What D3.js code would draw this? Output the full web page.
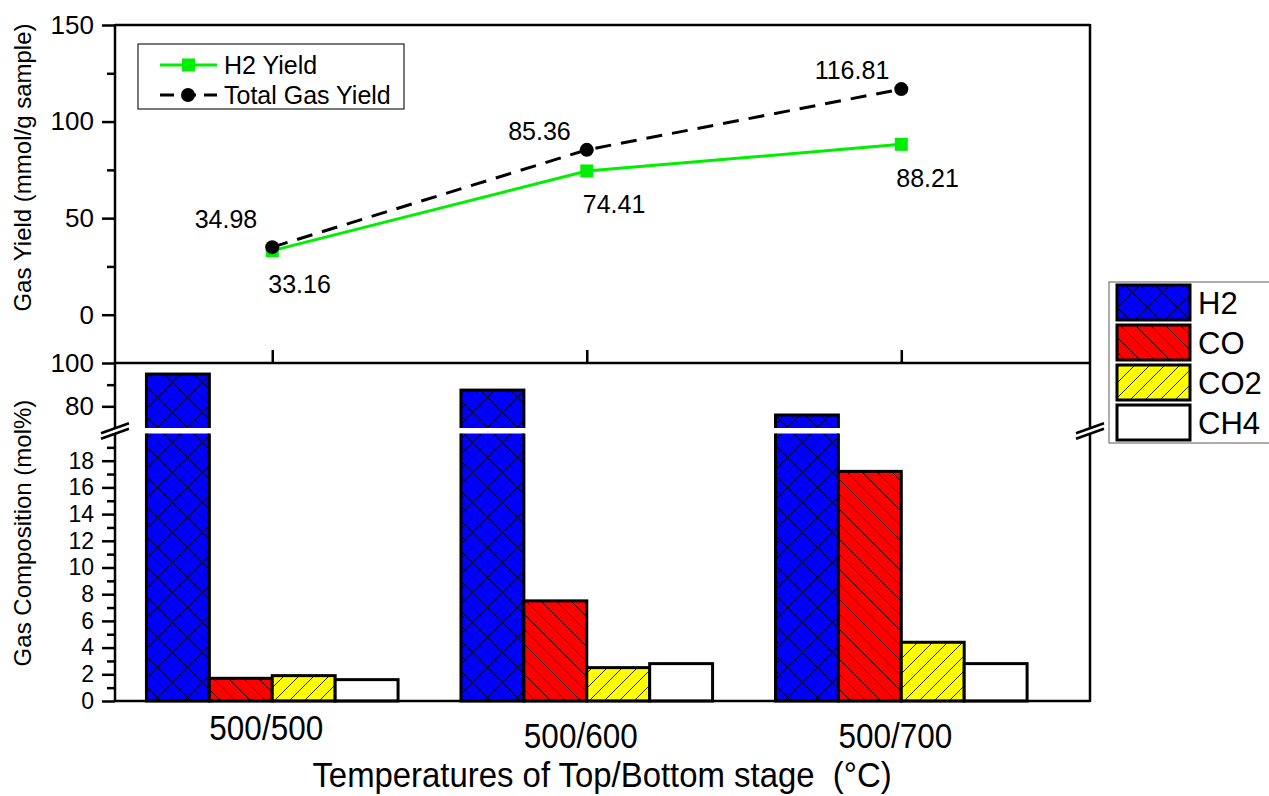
<!DOCTYPE html>
<html>
<head>
<meta charset="utf-8">
<script src="https://cdn.jsdelivr.net/npm/d3@7"></script>
<style>
  html, body { margin: 0; padding: 0; background: #fff; }
  svg { display: block; }
  text { font-family: "Liberation Sans", Arial, sans-serif; fill: #000; white-space: pre; }
</style>
</head>
<body>
<svg id="chart" width="1269" height="796"></svg>
<script>
// ---------------- data ----------------
const categories = ["500/500", "500/600", "500/700"];
const h2Yield = [33.16, 74.41, 88.21];
const totalYield = [34.98, 85.36, 116.81];
const gasNames = ["H2", "CO", "CO2", "CH4"];
const h2Comp = [94.9, 87.5, 76.0];
const coComp = [1.7, 7.5, 17.2];
const co2Comp = [1.9, 2.5, 4.4];
const ch4Comp = [1.6, 2.8, 2.8];
const yieldTicks = [0, 50, 100, 150];
const yieldMinorTicks = [25, 75, 125];
const compUpperTicks = [80, 100];
const compUpperMinor = [90];
const compLowerTicks = [0, 2, 4, 6, 8, 10, 12, 14, 16, 18];
const compLowerMinor = [1, 3, 5, 7, 9, 11, 13, 15, 17, 19];
const yieldTitle = "Gas Yield (mmol/g sample)";
const compTitle = "Gas Composition (mol%)";
const xTitle = "Temperatures of Top/Bottom stage \u00A0(\u00B0C)";
const lineLegend = ["H2 Yield", "Total Gas Yield"];

// ---------------- layout ----------------
const L = 115, R = 1090, TOP = 25, MID = 363, BOT = 701;
const BREAK_HI = 428, BREAK_LO = 433.5;
const FONT = '"Liberation Sans", Arial, sans-serif';

const svg = d3.select("#chart");
svg.append("rect").attr("width", 1269).attr("height", 796).attr("fill", "#fff");

const x = d3.scaleLinear().domain([-0.5, 2.6]).range([L, R]);
const yTop = d3.scaleLinear().domain([-25, 150]).range([MID, TOP]);
const yUp = d3.scaleLinear().domain([70, 100]).range([BREAK_HI, MID]);
const yLow = d3.scaleLinear().domain([0, 20]).range([BOT, 434]);
const step = x(1) - x(0);
const bw = step * 0.2;

// ---------------- patterns ----------------
const defs = svg.append("defs");
function pattern(id, fill, paths) {
  const p = defs.append("pattern").attr("id", id)
    .attr("patternUnits", "userSpaceOnUse").attr("width", 15).attr("height", 15);
  p.append("rect").attr("width", 15).attr("height", 15).attr("fill", fill);
  paths.forEach(d => p.append("path").attr("d", d)
    .attr("stroke", "#000").attr("stroke-width", 1).attr("stroke-opacity", 0.85).attr("fill", "none"));
}
pattern("pH2", "#0000ff", ["M0,0L15,15M-5,10L5,20M10,-5L20,5", "M0,15L15,0M-5,5L5,-5M10,20L20,10"]);
pattern("pCO", "#ff0000", ["M0,0L15,15M-5,10L5,20M10,-5L20,5"]);
pattern("pCO2", "#ffff00", ["M0,15L15,0M-5,5L5,-5M10,20L20,10"]);
const gasFills = ["url(#pH2)", "url(#pCO)", "url(#pCO2)", "#ffffff"];

defs.append("clipPath").attr("id", "clipUp").append("rect")
  .attr("x", 0).attr("y", MID).attr("width", 1269).attr("height", BREAK_HI - MID);
defs.append("clipPath").attr("id", "clipLow").append("rect")
  .attr("x", 0).attr("y", BREAK_LO).attr("width", 1269).attr("height", BOT + 5 - BREAK_LO);

// ---------------- bars ----------------
const comps = [h2Comp, coComp, co2Comp, ch4Comp];
const barData = [];
categories.forEach((c, i) => {
  comps.forEach((arr, k) => {
    barData.push({ i, k, v: arr[i], x0: x(i) - 2 * bw + k * bw });
  });
});

const gUp = svg.append("g").attr("clip-path", "url(#clipUp)");
gUp.selectAll("rect").data(barData.filter(d => d.v > 70)).join("rect")
  .attr("x", d => d.x0).attr("width", bw)
  .attr("y", d => yUp(d.v)).attr("height", d => BREAK_HI + 12 - yUp(d.v))
  .attr("fill", d => gasFills[d.k]).attr("stroke", "#000").attr("stroke-width", 3);

const gLow = svg.append("g").attr("clip-path", "url(#clipLow)");
gLow.selectAll("rect").data(barData).join("rect")
  .attr("x", d => d.x0).attr("width", bw)
  .attr("y", d => d.v > 20 ? BREAK_LO - 12 : yLow(d.v))
  .attr("height", d => BOT - (d.v > 20 ? BREAK_LO - 12 : yLow(d.v)))
  .attr("fill", d => gasFills[d.k]).attr("stroke", "#000").attr("stroke-width", 3);

// ---------------- axes ----------------
function styleAxis(fs) {
  return g => {
    g.select(".domain").remove();
    g.selectAll("line").attr("stroke", "#000").attr("stroke-width", 2.5);
    g.selectAll("text").attr("font-family", FONT).attr("font-size", fs).attr("fill", "#000");
  };
}
function leftAxis(scale, ticks, size) {
  return d3.axisLeft(scale).tickValues(ticks).tickSize(size).tickPadding(8);
}
svg.append("g").attr("transform", `translate(${L},0)`)
  .call(leftAxis(yTop, yieldTicks, 13)).call(styleAxis(26));
svg.append("g").attr("transform", `translate(${L},0)`)
  .call(leftAxis(yTop, yieldMinorTicks, 8).tickFormat("")).call(styleAxis(26));
svg.append("g").attr("transform", `translate(${L},0)`)
  .call(leftAxis(yUp, compUpperTicks, 13)).call(styleAxis(26));
svg.append("g").attr("transform", `translate(${L},0)`)
  .call(leftAxis(yUp, compUpperMinor, 8).tickFormat("")).call(styleAxis(26));
svg.append("g").attr("transform", `translate(${L},0)`)
  .call(leftAxis(yLow, compLowerTicks, 13)).call(styleAxis(23));
svg.append("g").attr("transform", `translate(${L},0)`)
  .call(leftAxis(yLow, compLowerMinor, 8).tickFormat("")).call(styleAxis(23));

// category ticks on the middle axis (pointing up into top panel)
svg.append("g").attr("transform", `translate(0,${MID})`)
  .call(d3.axisTop(x).tickValues(categories.map((c, i) => i)).tickSize(13).tickFormat(""))
  .call(styleAxis(26));

// frame lines
const frame = svg.append("g").attr("stroke", "#000").attr("stroke-width", 2.5).attr("fill", "none");
frame.append("line").attr("x1", L).attr("x2", R).attr("y1", TOP).attr("y2", TOP);
frame.append("line").attr("x1", L).attr("x2", R).attr("y1", MID).attr("y2", MID);
frame.append("line").attr("x1", L).attr("x2", R).attr("y1", BOT).attr("y2", BOT);
frame.append("line").attr("x1", L).attr("x2", L).attr("y1", TOP - 1).attr("y2", BOT + 1);
frame.append("line").attr("x1", R).attr("x2", R).attr("y1", TOP - 1).attr("y2", BOT + 1);

// axis break marks
const cy = (BREAK_HI + BREAK_LO) / 2;
[L, R].forEach(cx => {
  const g = svg.append("g");
  g.append("polygon")
    .attr("points", `${cx - 14},${cy + 3} ${cx + 14},${cy - 7} ${cx + 14},${cy - 2} ${cx - 14},${cy + 8}`)
    .attr("fill", "#fff");
  g.append("line").attr("x1", cx - 14).attr("y1", cy + 2.5).attr("x2", cx + 14).attr("y2", cy - 7.5)
    .attr("stroke", "#000").attr("stroke-width", 2.5);
  g.append("line").attr("x1", cx - 14).attr("y1", cy + 8).attr("x2", cx + 14).attr("y2", cy - 2)
    .attr("stroke", "#000").attr("stroke-width", 2.5);
});

// ---------------- lines (top panel) ----------------
const line = d3.line().x((d, i) => x(i)).y(d => yTop(d));
svg.append("path").datum(h2Yield).attr("d", line)
  .attr("fill", "none").attr("stroke", "#00ee00").attr("stroke-width", 3);
svg.append("g").selectAll("rect").data(h2Yield).join("rect")
  .attr("x", (d, i) => x(i) - 6.5).attr("y", d => yTop(d) - 6.5)
  .attr("width", 13).attr("height", 13).attr("fill", "#00ee00");
svg.append("path").datum(totalYield).attr("d", line)
  .attr("fill", "none").attr("stroke", "#000").attr("stroke-width", 3).attr("stroke-dasharray", "16,10");
svg.append("g").selectAll("circle").data(totalYield).join("circle")
  .attr("cx", (d, i) => x(i)).attr("cy", d => yTop(d)).attr("r", 7).attr("fill", "#000");

// data labels (offsets from their points)
const h2Off = [[-4, 42, "start"], [-4, 42, "start"], [-5, 43, "start"]];
const totOff = [[-15, -19, "end"], [-16, -10, "end"], [-12, -10, "end"]];
svg.append("g").selectAll("text").data(h2Yield).join("text")
  .attr("x", (d, i) => x(i) + h2Off[i][0]).attr("y", d => yTop(d))
  .attr("dy", (d, i) => h2Off[i][1]).attr("text-anchor", (d, i) => h2Off[i][2])
  .attr("font-size", 25).text(d => d.toFixed(2));
svg.append("g").selectAll("text").data(totalYield).join("text")
  .attr("x", (d, i) => x(i) + totOff[i][0]).attr("y", d => yTop(d))
  .attr("dy", (d, i) => totOff[i][1]).attr("text-anchor", (d, i) => totOff[i][2])
  .attr("font-size", 25).text(d => d.toFixed(2));

// ---------------- line legend ----------------
const lg = svg.append("g");
lg.append("rect").attr("x", 138).attr("y", 44).attr("width", 266).attr("height", 65)
  .attr("fill", "#fff").attr("stroke", "#222").attr("stroke-width", 1.2);
lg.append("line").attr("x1", 160).attr("x2", 217).attr("y1", 65).attr("y2", 65)
  .attr("stroke", "#00ee00").attr("stroke-width", 3);
lg.append("rect").attr("x", 182).attr("y", 58.5).attr("width", 13).attr("height", 13).attr("fill", "#00ee00");
lg.append("line").attr("x1", 160).attr("x2", 217).attr("y1", 95).attr("y2", 95)
  .attr("stroke", "#000").attr("stroke-width", 3).attr("stroke-dasharray", "14,8");
lg.append("circle").attr("cx", 188).attr("cy", 95).attr("r", 7).attr("fill", "#000");
lg.selectAll("text.l").data(lineLegend).join("text").attr("class", "l")
  .attr("x", 224).attr("y", (d, i) => 65 + i * 30 + 9).attr("font-size", 25).text(d => d);

// ---------------- bar legend ----------------
const bl = svg.append("g");
bl.append("rect").attr("x", 1109).attr("y", 282).attr("width", 175).attr("height", 161)
  .attr("fill", "#fff").attr("stroke", "#777").attr("stroke-width", 1.2);
bl.selectAll("rect.sw").data(gasNames).join("rect").attr("class", "sw")
  .attr("x", 1117).attr("y", (d, i) => 285 + i * 40).attr("width", 73).attr("height", 35)
  .attr("fill", (d, i) => gasFills[i]).attr("stroke", "#000").attr("stroke-width", 3);
bl.selectAll("text").data(gasNames).join("text")
  .attr("x", 1198).attr("y", (d, i) => 285 + i * 40 + 17.5 + 11)
  .attr("font-size", 31).text(d => d);

// ---------------- category labels & titles (slightly condensed type) ----------------
svg.append("g").selectAll("text").data(categories).join("text")
  .attr("transform", (d, i) => `translate(${x(i) - 6},${i === 0 ? 740 : 748}) scale(0.9,1)`)
  .attr("text-anchor", "middle").attr("font-size", 35).text(d => d);
svg.append("text").attr("transform", "translate(602,787) scale(0.94,1)").attr("text-anchor", "middle")
  .attr("font-size", 35).text(xTitle);
svg.append("text").attr("transform", `translate(31,${(TOP + 310) / 2}) rotate(-90)`)
  .attr("text-anchor", "middle").attr("font-size", 24).text(yieldTitle);
svg.append("text").attr("transform", `translate(31,533) rotate(-90)`)
  .attr("text-anchor", "middle").attr("font-size", 24).text(compTitle);
</script>
</body>
</html>
